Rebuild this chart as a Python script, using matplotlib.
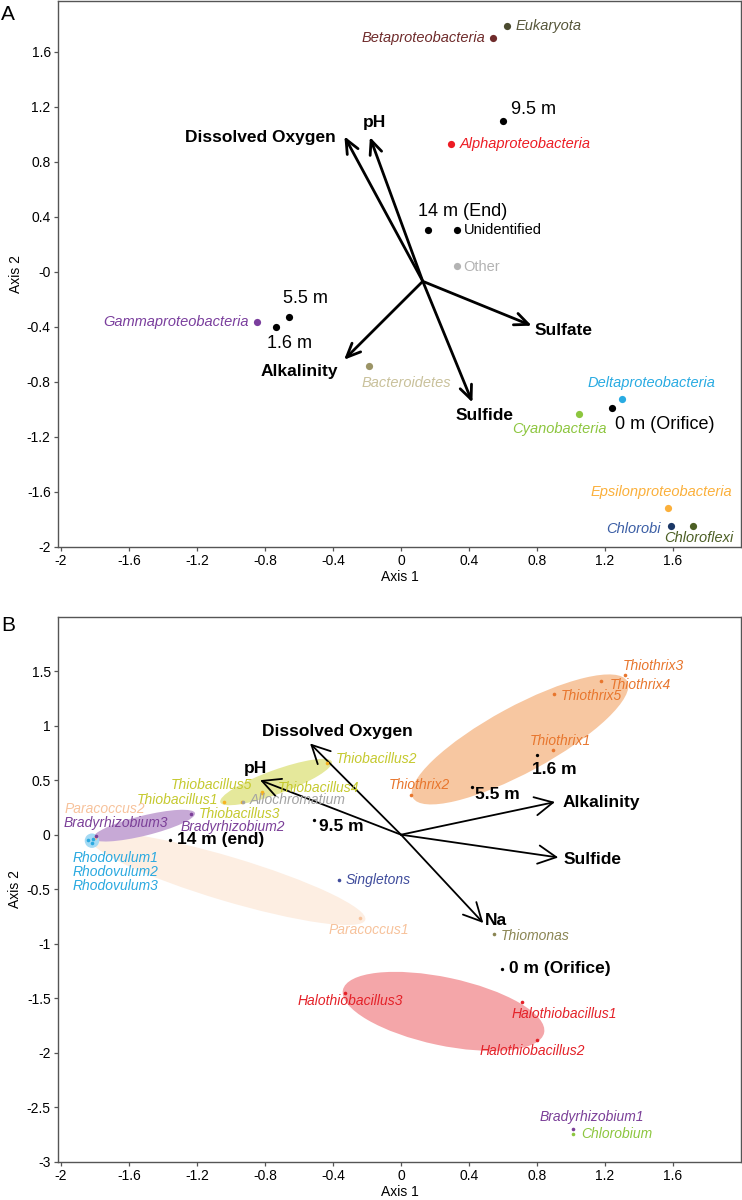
import matplotlib.pyplot as plt
import numpy as np
from matplotlib.patches import Ellipse
from matplotlib.transforms import Affine2D

plt.rcParams['font.family'] = ['Liberation Sans', 'DejaVu Sans']

# ---------------- panel A : phyla ----------------
a_taxa = ['Eukaryota', 'Betaproteobacteria', 'Alphaproteobacteria', 'Unidentified', 'Other',
          'Gammaproteobacteria', 'Bacteroidetes', 'Deltaproteobacteria', 'Cyanobacteria',
          'Epsilonproteobacteria', 'Chlorobi', 'Chloroflexi']
a_taxa_x = [0.624, 0.544, 0.294, 0.327, 0.327, -0.849, -0.187, 1.30, 1.047, 1.569, 1.588, 1.72]
a_taxa_y = [1.79, 1.70, 0.93, 0.303, 0.042, -0.366, -0.69, -0.928, -1.036, -1.72, -1.85, -1.85]

a_sites = ['9.5 m', '14 m (End)', '5.5 m', '1.6 m', '0 m (Orifice)']
a_sites_x = [0.602, 0.159, -0.657, -0.734, 1.239]
a_sites_y = [1.097, 0.303, -0.333, -0.40, -0.993]

a_env = ['Dissolved Oxygen', 'pH', 'Alkalinity', 'Sulfide', 'Sulfate']
a_env_x = [-0.333, -0.183, -0.335, 0.42, 0.769]
a_env_y = [0.985, 0.98, -0.641, -0.952, -0.393]
a_origin = (0.128, -0.07)

# ---------------- panel B : genera ----------------
b_taxa = ['Thiothrix1', 'Thiothrix2', 'Thiothrix3', 'Thiothrix4', 'Thiothrix5',
          'Thiobacillus1', 'Thiobacillus2', 'Thiobacillus3', 'Thiobacillus4', 'Thiobacillus5',
          'Allochromatium', 'Paracoccus1', 'Paracoccus2', 'Bradyrhizobium1', 'Bradyrhizobium2',
          'Bradyrhizobium3', 'Rhodovulum1', 'Rhodovulum2', 'Rhodovulum3', 'Singletons',
          'Thiomonas', 'Halothiobacillus1', 'Halothiobacillus2', 'Halothiobacillus3', 'Chlorobium']
b_taxa_x = [0.894, 0.059, 1.318, 1.178, 0.902,
            -1.039, -0.437, -0.937, -0.82, -0.82,
            -0.93, -0.241, -1.80, 1.014, -1.237,
            -1.796, -1.839, -1.819, -1.81, -0.363,
            0.547, 0.712, 0.798, -0.331, 1.014]
b_taxa_y = [0.776, 0.368, 1.463, 1.41, 1.294,
            0.30, 0.66, 0.30, 0.385, 0.39,
            0.30, -0.76, -0.03, -2.70, 0.19,
            -0.016, -0.046, -0.076, -0.04, -0.414,
            -0.91, -1.534, -1.88, -1.456, -2.75]

b_sites = ['1.6 m', '5.5 m', '9.5 m', '14 m (end)', '0 m (Orifice)']
b_sites_x = [0.798, 0.418, -0.51, -1.359, 0.596]
b_sites_y = [0.73, 0.44, 0.138, -0.046, -1.23]

b_env = ['Dissolved Oxygen', 'pH', 'Alkalinity', 'Sulfide', 'Na']
b_env_x = [-0.535, -0.829, 0.906, 0.925, 0.484]
b_env_y = [0.837, 0.50, 0.30, -0.209, -0.81]
b_origin = (0.0, 0.0)

# group ellipses: centre x, centre y, length, width (x-axis units), angle on screen
b_groups = ['Paracoccus', 'Thiothrix', 'Thiobacillus', 'Bradyrhizobium', 'Rhodovulum', 'Halothiobacillus']
b_grp_cx = [-1.02, 0.70, -0.735, -1.512, -1.818, 0.25]
b_grp_cy = [-0.405, 0.874, 0.483, 0.083, -0.055, -1.621]
b_grp_len = [1.69, 1.435, 0.698, 0.618, 0.085, 1.21]
b_grp_wid = [0.26, 0.388, 0.141, 0.118, 0.085, 0.40]
b_grp_ang = [-16.6, 28.5, 20, 13.8, 0, -12]

# ---------------- styles ----------------
a_dot_col = ['#4b4b30', '#6f2b2b', '#ed1c24', '#000000', '#b3b3b3', '#7a3e9d', '#9b9466',
             '#29abe2', '#8dc63f', '#fbb03b', '#1b3766', '#4c5f25']
a_txt_col = ['#56563a', '#6f2b2b', '#ed1c24', '#000000', '#b3b3b3', '#7a3e9d', '#c9c19b',
             '#29abe2', '#8dc63f', '#fbb03b', '#3b5ea5', '#4c5f25']
# label offsets in pixels and horizontal alignment
a_taxa_off = [(8, 0, 'left'), (-8, 0, 'right'), (9, 0, 'left'), (7, 0, 'left'), (7, -1, 'left'),
              (-8, 0, 'right'), (-8, -17, 'left'), (-34, 16, 'left'), (-67, -15, 'left'),
              (-77, 16, 'left'), (-10, -3, 'right'), (-29, -12, 'left')]
a_sites_off = [(8, 11, 'left'), (-10, 19, 'left'), (-6, 19, 'left'), (-9, -17, 'left'), (3, -16, 'left')]
a_env_off = [(-9, -1, 'right'), (-7, 15, 'left'), (-6, -12, 'right'), (-17, -13, 'left'), (3, -5, 'left')]

col = {'Thiothrix': '#e8762d', 'Thiobacillus': '#c5c92e', 'Allochromatium': '#a3a3a3',
       'Paracoccus': '#f7c29b', 'Bradyrhizobium': '#7b3f98', 'Rhodovulum': '#2aa9e0',
       'Singletons': '#3f4c9c', 'Thiomonas': '#8a8553', 'Halothiobacillus': '#e42128',
       'Chlorobium': '#8dc63f'}
grp_fill = {'Paracoccus': '#fdeee2', 'Thiothrix': '#f7c7a1', 'Thiobacillus': '#e5e89b',
            'Bradyrhizobium': '#c7a9d6', 'Rhodovulum': '#a4daf4', 'Halothiobacillus': '#f4a6a9'}
b_taxa_off = [(-23, 9, 'left'), (-22, 10, 'left'), (-2, 9, 'left'), (8, -4, 'left'), (6, -2, 'left'),
              (-6, 2, 'right'), (9, 4, 'left'), (-43, -12, 'left'), (16, 5, 'left'), (-9, 7, 'right'),
              (7, 2, 'left'), (-31, -12, 'left'), (-30, 29, 'left'), (-34, 12, 'left'), (-10, -13, 'left'),
              (-32, 13, 'left'), (-16, -18, 'left'), (-19, -29, 'left'), (-21, -47, 'left'), (6, 0, 'left'),
              (7, -2, 'left'), (-10, -12, 'left'), (-57, -11, 'left'), (-47, -8, 'left'), (8, 0, 'left')]
b_sites_off = [(-5, -14, 'left'), (3, -8, 'left'), (5, -7, 'left'), (7, 0, 'left'), (7, 0, 'left')]
b_env_off = [(-48, 12, 'left'), (-16, 12, 'left'), (8, -1, 'left'), (5, -2, 'left'), (2, 2, 'left')]

xticks = [-2, -1.6, -1.2, -0.8, -0.4, 0, 0.4, 0.8, 1.2, 1.6]
xticklabels = ['-2', '-1.6', '-1.2', '-0.8', '-0.4', '0', '0.4', '0.8', '1.2', '1.6']
a_yticks = [-2, -1.6, -1.2, -0.8, -0.4, 0, 0.4, 0.8, 1.2, 1.6]
a_yticklabels = ['-2', '-1.6', '-1.2', '-0.8', '-0.4', '-0', '0.4', '0.8', '1.2', '1.6']
b_yticks = [-3, -2.5, -2, -1.5, -1, -0.5, 0, 0.5, 1, 1.5]
b_yticklabels = ['-3', '-2.5', '-2', '-1.5', '-1', '-0.5', '0', '0.5', '1', '1.5']

W, H = 742, 1200
fig = plt.figure(figsize=(W / 100, H / 100), dpi=100)


def frame(ax, ylim, yticks, yticklabels):
    ax.set_xlim(-2.016, 1.997)
    ax.set_ylim(*ylim)
    ax.set_xticks(xticks)
    ax.set_xticklabels(xticklabels)
    ax.set_yticks(yticks)
    ax.set_yticklabels(yticklabels)
    for s in ax.spines.values():
        s.set_color('#555555')
        s.set_linewidth(1.0)
    ax.tick_params(direction='out', length=3, width=0.9, color='#555555',
                   labelsize=10, pad=2.5)
    ax.set_xlabel('Axis 1', fontsize=10, labelpad=1)
    ax.set_ylabel('Axis 2', fontsize=10, labelpad=3)


def arrows(ax, origin, xs, ys, names, offs, lw, fs, hl, hw):
    for x, y, n, (dx, dy, ha) in zip(xs, ys, names, offs):
        ax.annotate('', xy=(x, y), xytext=origin,
                    arrowprops=dict(arrowstyle='->,head_length=%s,head_width=%s' % (hl, hw),
                                    lw=lw, color='black', shrinkA=0, shrinkB=0,
                                    mutation_scale=20))
        ax.annotate(n, xy=(x, y), xytext=(dx, dy), textcoords='offset pixels',
                    ha=ha, va='center', fontsize=fs, fontweight='bold')


# ---------------- panel A ----------------
axA = fig.add_axes([58.3 / W, 1 - 546.5 / H, 682.2 / W, 545.5 / H])
frame(axA, (-2.0, 1.97), a_yticks, a_yticklabels)

arrows(axA, a_origin, a_env_x, a_env_y, a_env, a_env_off, 2.0, 12.5, 0.5, 0.22)

for x, y, n, dc, tc, (dx, dy, ha) in zip(a_taxa_x, a_taxa_y, a_taxa, a_dot_col, a_txt_col, a_taxa_off):
    axA.plot(x, y, 'o', ms=5.2, color=dc, mec='none', zorder=3)
    style = 'normal' if n in ('Unidentified', 'Other') else 'italic'
    axA.annotate(n, xy=(x, y), xytext=(dx, dy), textcoords='offset pixels',
                 ha=ha, va='center', fontsize=10.5, style=style, color=tc)

for x, y, n, (dx, dy, ha) in zip(a_sites_x, a_sites_y, a_sites, a_sites_off):
    axA.plot(x, y, 'o', ms=5.2, color='black', mec='none', zorder=3)
    axA.annotate(n, xy=(x, y), xytext=(dx, dy), textcoords='offset pixels',
                 ha=ha, va='center', fontsize=13)

# ---------------- panel B ----------------
axB = fig.add_axes([58.3 / W, 1 - 1161.7 / H, 682.2 / W, 545 / H])
frame(axB, (-3.0, 2.0), b_yticks, b_yticklabels)

# y-data per x-unit so that ellipse shapes are not distorted by the axis aspect
ppx = axB.bbox.width / np.ptp(axB.get_xlim())
ppy = axB.bbox.height / np.ptp(axB.get_ylim())
r = ppx / ppy
for g, cx, cy, L, Wd, ang in zip(b_groups, b_grp_cx, b_grp_cy, b_grp_len, b_grp_wid, b_grp_ang):
    e = Ellipse((0, 0), L, Wd, angle=ang, facecolor=grp_fill[g], edgecolor='none', zorder=1)
    e.set_transform(Affine2D().scale(1, r).translate(cx, cy) + axB.transData)
    axB.add_patch(e)

arrows(axB, b_origin, b_env_x, b_env_y, b_env, b_env_off, 1.3, 12.5, 0.65, 0.33)

for x, y, n, (dx, dy, ha) in zip(b_taxa_x, b_taxa_y, b_taxa, b_taxa_off):
    g = n.rstrip('0123456789')
    c = col[g]
    dot = '#f6b21f' if g == 'Thiobacillus' else c
    axB.plot(x, y, 'o', ms=2.6, color=dot, mec='none', zorder=3)
    axB.annotate(n, xy=(x, y), xytext=(dx, dy), textcoords='offset pixels',
                 ha=ha, va='center', fontsize=10, style='italic', color=c)

for x, y, n, (dx, dy, ha) in zip(b_sites_x, b_sites_y, b_sites, b_sites_off):
    axB.plot(x, y, 'o', ms=2.4, color='black', mec='none', zorder=3)
    axB.annotate(n, xy=(x, y), xytext=(dx, dy), textcoords='offset pixels',
                 ha=ha, va='center', fontsize=12.5, fontweight='bold')

fig.text(8 / W, 1 - 14 / H, 'A', fontsize=15, ha='center', va='center')
fig.text(8 / W, 1 - 626 / H, 'B', fontsize=15, ha='center', va='center')

fig.savefig('out.png', dpi=100)
